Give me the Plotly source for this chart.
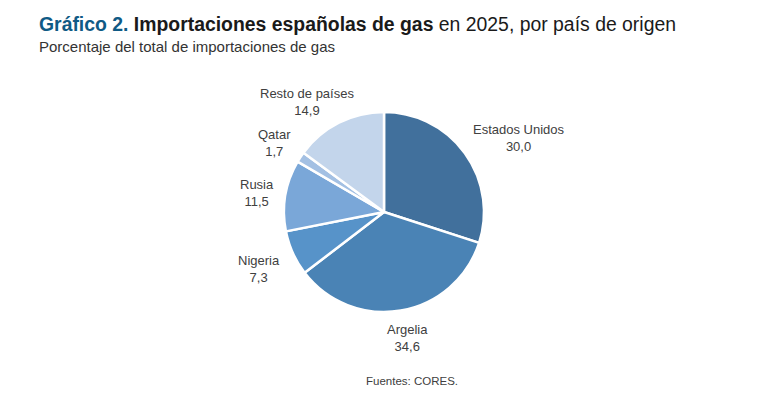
import math
import plotly.graph_objects as go

paises = ["Estados Unidos", "Argelia", "Nigeria", "Rusia", "Qatar", "Resto de países"]
porcentajes = [30.0, 34.6, 7.3, 11.5, 1.7, 14.9]
colores = ["#41709c", "#4a83b5", "#5793c9", "#7aa7d8", "#a3c0e3", "#c3d5eb"]

W, H = 784, 398
cx, cy, r = 384, 212, 100
FS = 13

fig = go.Figure(go.Pie(
    labels=paises,
    values=porcentajes,
    sort=False,
    direction="clockwise",
    rotation=0,
    marker=dict(colors=colores, line=dict(color="white", width=2.5)),
    textinfo="none",
    hoverinfo="label+value",
    showlegend=False,
    domain=dict(x=[(cx - r) / W, (cx + r) / W], y=[(H - cy - r) / H, (H - cy + r) / H]),
))

# Data labels placed outside each slice at its mid angle
annotations = []
total = sum(porcentajes)
cum = 0.0
R_lab = 112
for lab, val in zip(paises, porcentajes):
    mid = (cum + val / 2) / total * 2 * math.pi
    cum += val
    s, c = math.sin(mid), -math.cos(mid)
    hw = len(lab) * FS * 0.5 / 2
    hh = 13
    ax = cx + R_lab * s + hw * max(-1, min(1, s * 1.2))
    ay = cy + 3 + R_lab * c + hh * max(-1, min(1, c * 1.5))
    annotations.append(dict(
        text=f"{lab}<br>{val:.1f}".replace(".", ","),
        x=ax / W, y=1 - ay / H, xref="paper", yref="paper",
        xanchor="center", yanchor="middle", showarrow=False,
        font=dict(size=FS, color="#404040"),
    ))

annotations += [
    dict(text="<b><span style='color:#0f5a85'>Gráfico 2.</span> Importaciones españolas de gas</b> en 2025, por país de origen",
         x=37 / W, y=1 - 11 / H, xref="paper", yref="paper", xanchor="left", yanchor="top",
         showarrow=False, font=dict(size=19.4, color="#1a1a1a")),
    dict(text="Porcentaje del total de importaciones de gas",
         x=37 / W, y=1 - 36 / H, xref="paper", yref="paper", xanchor="left", yanchor="top",
         showarrow=False, font=dict(size=15, color="#333333")),
    dict(text="Fuentes: CORES.",
         x=412 / W, y=1 - 381 / H, xref="paper", yref="paper", xanchor="center", yanchor="middle",
         showarrow=False, font=dict(size=11.5, color="#404040")),
]

fig.update_layout(
    width=W, height=H,
    margin=dict(l=0, r=0, t=0, b=0),
    paper_bgcolor="white",
    separators=",.",
    font=dict(family="Liberation Sans, Arial"),
    annotations=annotations,
)

fig.write_html("out.html", config={"displayModeBar": False},
               post_script="document.body.style.margin='0';")
